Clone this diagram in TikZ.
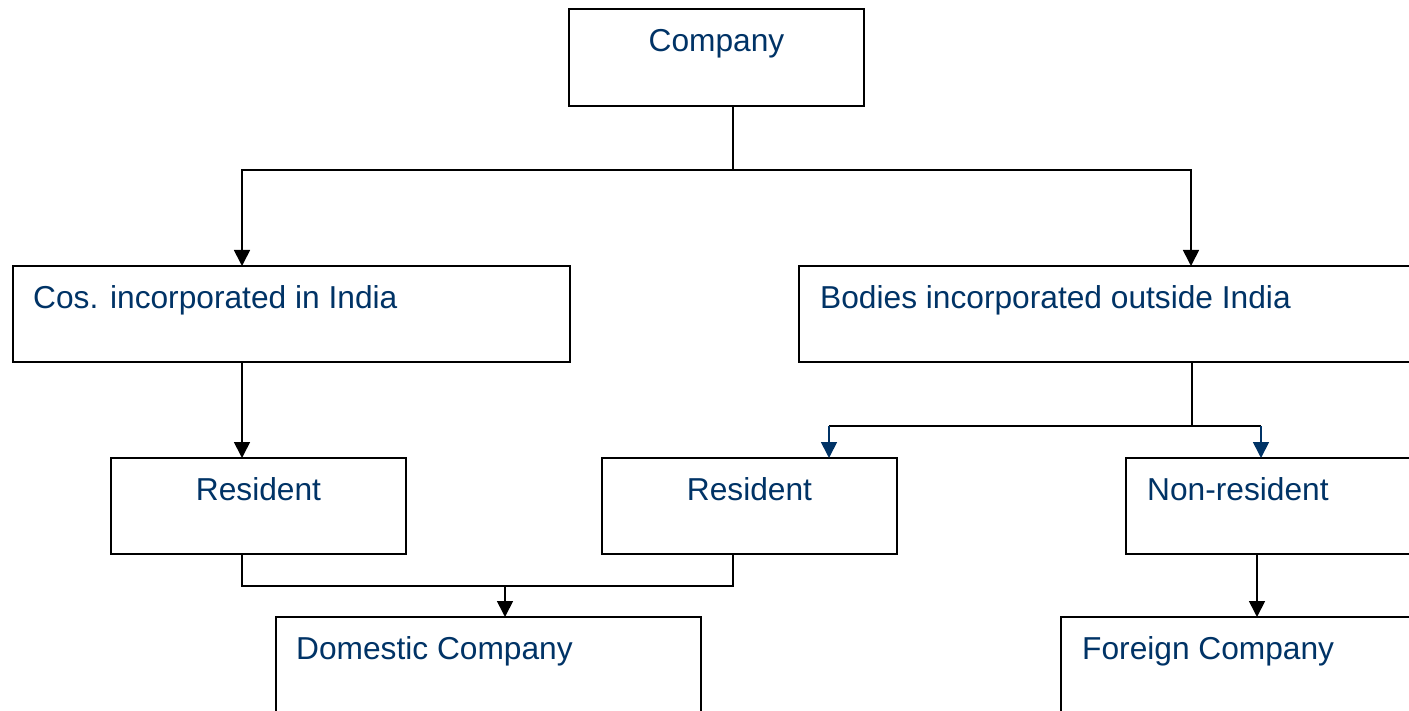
\documentclass[tikz,border=0pt]{standalone}
\usepackage{fontspec}
\setmainfont{Liberation Sans}
\usetikzlibrary{arrows.meta}
\definecolor{navy}{RGB}{0,51,102}
\begin{document}
\begin{tikzpicture}[x=1pt,y=-1pt,
  box/.style={draw=black,line width=1.7pt,inner sep=0pt,outer sep=0pt,fill=white},
  txt/.style={text=navy,inner sep=0pt,font=\fontsize{31.7}{38}\selectfont},
  conn/.style={draw=black,line width=1.7pt},
  arrK/.style={conn,-{Triangle[width=16pt,length=16pt]}},
  arrB/.style={draw=navy,line width=1.7pt,-{Triangle[width=16pt,length=16pt]}}]
\useasboundingbox (0,0) rectangle (1409,711);
\clip (0,0) rectangle (1409,711);
% boxes
\node[box,minimum width=295pt,minimum height=97pt] (company) at (716.5,57.5) {};
\node[box,minimum width=557pt,minimum height=96pt] (cos) at (291.5,314) {};
\node[box,minimum width=631pt,minimum height=96pt] (bodies) at (1114.5,314) {};
\node[box,minimum width=295pt,minimum height=96pt] (res1) at (258.5,506) {};
\node[box,minimum width=295pt,minimum height=96pt] (res2) at (749.5,506) {};
\node[box,minimum width=304pt,minimum height=96pt] (nonres) at (1278,506) {};
\node[box,minimum width=425pt,minimum height=113pt] (dom) at (488.5,673.5) {};
\node[box,minimum width=369pt,minimum height=113pt] (foreign) at (1245.5,673.5) {};
% texts
\node[txt,anchor=base] (companyT) at (716.5,52) {Company};
\node[txt,anchor=base west] (cosT) at (33,309) {Cos. incorporated in India};
\node[txt,anchor=base west] (bodiesT) at (820,309) {Bodies incorporated outside India};
\node[txt,anchor=base] (res1T) at (258.5,500) {Resident};
\node[txt,anchor=base] (res2T) at (749.5,500) {Resident};
\node[txt,anchor=base west] (nonresT) at (1147,500) {Non-resident};
\node[txt,anchor=base west] (domT) at (296,659) {Domestic Company};
\node[txt,anchor=base west] (foreignT) at (1082,659) {Foreign Company};
% connector points
\coordinate (compOut) at (company.south -| 733,0);
\coordinate (split1) at (733,170);
\coordinate (cosIn) at (cos.north -| 242,0);
\coordinate (bodIn) at (bodies.north -| 1191,0);
\coordinate (cosOut) at (cos.south -| 242,0);
\coordinate (res1In) at (res1.north -| 242,0);
\coordinate (bodOut) at (bodies.south -| 1192,0);
\coordinate (split2) at (1192,426);
\coordinate (res2In) at (res2.north -| 829,0);
\coordinate (nonresIn) at (nonres.north -| 1261,0);
\coordinate (res1Out) at (res1.south -| 242,0);
\coordinate (res2Out) at (res2.south -| 733,0);
\coordinate (join) at (505,586);
\coordinate (domIn) at (dom.north -| 505,0);
\coordinate (nonresOut) at (nonres.south -| 1257,0);
\coordinate (foreignIn) at (foreign.north -| 1257,0);
% connectors
\draw[conn] (compOut) -- (split1);
\draw[arrK] (split1) -| (cosIn);
\draw[arrK] (split1) -| (bodIn);
\draw[arrK] (cosOut) -- (res1In);
\draw[conn] (bodOut) -- (split2);
\draw[conn] (res2In |- split2) -- (nonresIn |- split2);
\draw[arrB] (res2In |- split2) -- (res2In);
\draw[arrB] (nonresIn |- split2) -- (nonresIn);
\draw[conn] (res1Out) |- (join) -| (res2Out);
\draw[arrK] (join) -- (domIn);
\draw[arrK] (nonresOut) -- (foreignIn);
\end{tikzpicture}
\end{document}
